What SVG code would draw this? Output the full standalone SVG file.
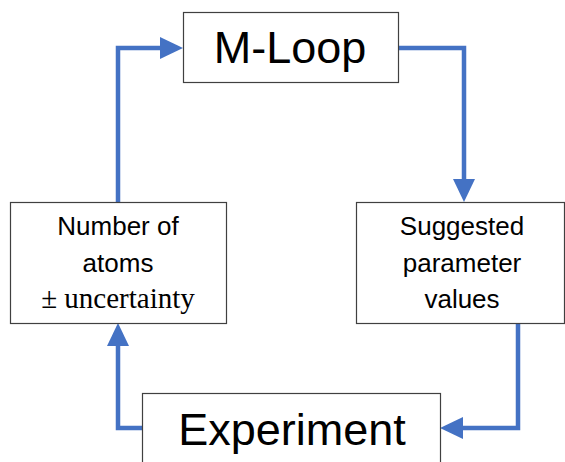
<svg xmlns="http://www.w3.org/2000/svg" width="565" height="462" viewBox="0 0 565 462">
<style>
.box{fill:#fff;stroke:#404040;stroke-width:1.2}
.conn{fill:none;stroke:#4472C4;stroke-width:4.5}
.t{font-family:"Liberation Sans",Arial,sans-serif;fill:#000;text-anchor:middle}
.s{font-family:"Liberation Serif","Times New Roman",serif;fill:#000;text-anchor:middle}
</style>
<defs>
<marker id="ah" markerUnits="userSpaceOnUse" markerWidth="24" markerHeight="24" refX="0" refY="11" orient="auto">
<path d="M0,0 L23,11 L0,22 z" fill="#4472C4"/>
</marker>
</defs>
<g id="connectors">
<path class="conn" d="M118,202 V48 H160" marker-end="url(#ah)"/>
<path class="conn" d="M398,48 H464 V179" marker-end="url(#ah)"/>
<path class="conn" d="M518,323 V428 H463" marker-end="url(#ah)"/>
<path class="conn" d="M142,428 H118 V346" marker-end="url(#ah)"/>
</g>
<g id="mloop">
<rect class="box" x="183.5" y="12.5" width="215" height="70"/>
<text class="t" x="290" y="63" font-size="45">M-Loop</text>
</g>
<g id="atoms">
<rect class="box" x="10.5" y="202.5" width="216" height="121"/>
<text class="t" x="118" y="235" font-size="26">Number of</text>
<text class="t" x="118" y="272" font-size="26">atoms</text>
<text class="s" x="118" y="308" font-size="29">± uncertainty</text>
</g>
<g id="suggested">
<rect class="box" x="356.5" y="202.5" width="208" height="121"/>
<text class="t" x="462" y="235" font-size="26">Suggested</text>
<text class="t" x="462" y="272" font-size="26">parameter</text>
<text class="t" x="462" y="308" font-size="26">values</text>
</g>
<g id="experiment">
<rect class="box" x="142.5" y="393.5" width="298" height="80"/>
<text class="t" x="292" y="445" font-size="45">Experiment</text>
</g>
</svg>
